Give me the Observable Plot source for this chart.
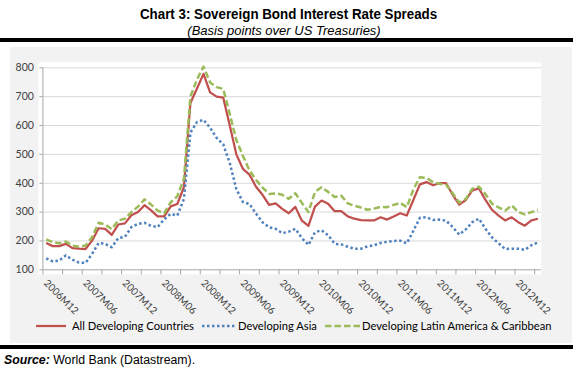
<!DOCTYPE html>
<html><head><meta charset="utf-8">
<script src="https://cdn.jsdelivr.net/npm/d3@7"></script>
<script src="https://cdn.jsdelivr.net/npm/@observablehq/plot@0.6"></script>
<style>
body{margin:0;width:578px;height:371px;position:relative;background:#fff;overflow:hidden;font-family:"Liberation Sans",Arial,sans-serif;color:#000}
.abs{position:absolute}
#title{left:0;width:578px;top:6px;text-align:center;font-weight:bold;font-size:14.5px;font-family:"Liberation Sans",sans-serif;line-height:17px}
#title span{display:inline-block;transform:scaleX(0.92);transform-origin:center}
#subtitle{left:0;width:568px;top:21.5px;text-align:center;font-style:italic;font-size:13px;font-family:"Liberation Sans",sans-serif;line-height:17px}
.rule{left:0;width:573px;height:4px;background:#000}
#panel{left:10px;top:47px;width:562px;height:296px;background:#f2f2f2}
#chart{left:0;top:47px}
#legend{left:0;top:318px;width:578px;height:16px;font-family:Lato,"Liberation Sans",sans-serif;font-size:11.2px;color:#000}
.lt{position:absolute;top:0;line-height:16px;white-space:nowrap}
#source{left:4px;top:352px;font-size:12.3px;font-family:"Liberation Sans",sans-serif;line-height:16px;white-space:nowrap}
</style></head>
<body>
<div id="title" class="abs"><span>Chart 3: Sovereign Bond Interest Rate Spreads</span></div>
<div id="subtitle" class="abs">(Basis points over US Treasuries)</div>
<div class="abs rule" style="top:38px"></div>
<div id="panel" class="abs"></div>
<div id="chart" class="abs"></div>
<div id="legend" class="abs"></div>
<div class="abs rule" style="top:345px"></div>
<div id="source" class="abs"><b><i>Source:</i></b> World Bank (Datastream).</div>
<script>
// Monthly observations, 2006M12 .. 2013M03 (76 months)
const tickLabels = ["2006M12","2007M06","2007M12","2008M06","2008M12","2009M06","2009M12","2010M06","2010M12","2011M06","2011M12","2012M06","2012M12"];
const yTicks = [100,200,300,400,500,600,700,800];
const seriesNames = ["All Developing Countries","Developing Asia","Developing Latin America & Caribbean"];
const allDeveloping = [193,182,182,190,175,173,172,201,244,242,221,257,261,289,300,324,306,285,285,320,328,386,678,728,779,715,700,697,600,500,450,430,388,360,325,330,311,296,318,270,252,319,340,329,303,303,285,277,272,271,271,282,274,285,296,288,342,396,404,393,400,400,360,326,342,375,382,342,308,288,271,282,265,253,271,277];
const developingAsia = [140,129,132,150,135,125,124,155,193,190,178,210,214,248,259,263,252,248,275,294,288,345,575,612,620,592,557,535,470,380,335,328,295,265,247,242,227,232,242,210,186,230,237,220,190,188,180,173,173,181,185,193,197,200,201,192,235,280,282,273,274,270,248,222,240,265,277,242,212,192,172,173,173,169,185,195];
const latinAmerica = [205,196,192,198,184,180,184,213,263,257,241,271,277,300,319,344,326,305,296,334,355,415,700,760,804,749,733,727,640,550,495,445,412,385,363,365,360,346,365,332,300,370,386,370,352,357,330,322,316,308,312,318,317,325,332,317,378,421,418,404,398,395,365,333,346,381,388,362,329,316,305,323,300,292,300,307];

const colors = ["#c0504d","#4f81bd","#9bbb59"];
const dashes = [null,"2.5 2.5","6.5 3"];
const N = allDeveloping.length;
const labelIdx = tickLabels.map((_, k) => k * 6);
const boundaries = d3.range(-0.5, N - 1, 3);
const toRows = arr => arr.map((v, i) => ({i, v}));
const lineOpts = k => ({x: "i", y: "v", stroke: colors[k], strokeWidth: k === 0 ? 2.25 : 2.5, strokeDasharray: dashes[k], strokeLinejoin: "round", strokeLinecap: "butt"});

const chart = Plot.plot({
  width: 578, height: 263,
  marginLeft: 42.4, marginRight: 37.3, marginTop: 20.3, marginBottom: 40.7,
  x: {domain: [-0.5, N - 0.5], axis: null},
  y: {domain: [100, 800], axis: null},
  style: {background: "transparent", fontFamily: "Lato, 'Liberation Sans', sans-serif", overflow: "visible"},
  marks: [
    Plot.frame({fill: "white", stroke: null, insetLeft: -4.5, insetTop: -5.5, insetBottom: -4.5}),
    Plot.ruleY(yTicks.filter(d => d > 100), {stroke: "#d9d9d9", strokeWidth: 1}),
    Plot.ruleY([100], {stroke: "#a6a6a6"}),
    Plot.ruleX([-0.5], {stroke: "#a6a6a6"}),
    Plot.axisY({ticks: yTicks, tickSize: 3, tickPadding: 6, fontSize: 10.5, fill: "#404040", stroke: "#a6a6a6", anchor: "left", label: null}),
    Plot.axisX({ticks: boundaries, tickSize: 5, tickFormat: () => "", stroke: "#a6a6a6", anchor: "bottom", label: null}),
    Plot.text(labelIdx, {x: d => d, frameAnchor: "bottom", text: (d, k) => tickLabels[k], rotate: 45, textAnchor: "start", lineAnchor: "bottom", dx: -3, dy: 14, fontSize: 10, fill: "#404040"}),
    Plot.line(toRows(allDeveloping), lineOpts(0)),
    Plot.line(toRows(developingAsia), lineOpts(1)),
    Plot.line(toRows(latinAmerica), lineOpts(2))
  ]
});
document.getElementById("chart").appendChild(chart);

// legend
const legend = document.getElementById("legend");
const samples = [[36, 66, 72], [202, 236, 238], [325, 360, 362]];
const ns = "http://www.w3.org/2000/svg";
seriesNames.forEach((name, k) => {
  const [x0, x1, tx] = samples[k];
  const svg = document.createElementNS(ns, "svg");
  svg.setAttribute("width", x1 - x0); svg.setAttribute("height", 16);
  svg.style.position = "absolute"; svg.style.left = x0 + "px"; svg.style.top = "0px";
  const ln = document.createElementNS(ns, "line");
  ln.setAttribute("x1", 0); ln.setAttribute("x2", x1 - x0);
  ln.setAttribute("y1", 8); ln.setAttribute("y2", 8);
  ln.setAttribute("stroke", colors[k]); ln.setAttribute("stroke-width", k === 0 ? 2.25 : 2.5);
  if (dashes[k]) ln.setAttribute("stroke-dasharray", dashes[k]);
  svg.appendChild(ln); legend.appendChild(svg);
  const t = document.createElement("div");
  t.className = "lt"; t.style.left = tx + "px"; t.textContent = name;
  legend.appendChild(t);
});
</script>
</body></html>
